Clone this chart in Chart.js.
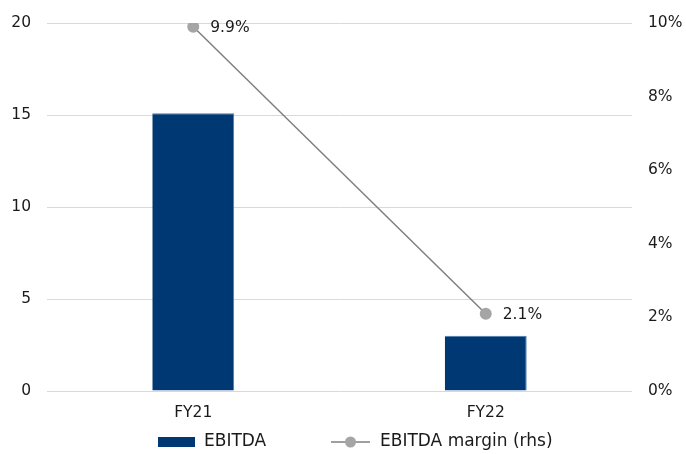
<!DOCTYPE html>
<html><head><meta charset="utf-8">
<script src="https://cdn.jsdelivr.net/npm/chart.js@4"></script>
<style>html,body{margin:0;padding:0;background:#fff}#wrap{width:686px;height:454px;position:relative}</style>
</head><body><div id="wrap"><canvas id="c" width="686" height="454"></canvas></div>
<script>
const categories = ["FY21", "FY22"];
const ebitda = [15.1, 3.0];
const margin = [9.9, 2.1];
const marginLabels = ["9.9%", "2.1%"];
const leftTicks = [0, 5, 10, 15, 20];
const rightTicks = [0, 2, 4, 6, 8, 10];

const FONT = "'DejaVu Sans', Verdana, sans-serif";
const TXT = '#1a1a1a';
const FS = 15.5;

const labelPlugin = {
  id: 'labels',
  afterDatasetsDraw(chart) {
    const ctx = chart.ctx;
    const meta = chart.getDatasetMeta(1);
    ctx.save();
    ctx.font = FS + 'px ' + FONT;
    ctx.fillStyle = TXT;
    ctx.textBaseline = 'middle';
    ctx.textAlign = 'left';
    meta.data.forEach((pt, i) => {
      ctx.fillText(marginLabels[i], pt.x + 17, pt.y + 1);
    });
    ctx.restore();
  },
  afterDraw(chart) {
    const ctx = chart.ctx;
    ctx.save();
    ctx.font = '17px ' + FONT;
    ctx.textBaseline = 'middle';
    const y = 442;
    ctx.fillStyle = '#003873';
    ctx.fillRect(158, 437, 37, 10);
    ctx.fillStyle = TXT;
    ctx.fillText(chart.data.datasets[0].label, 204, y);
    ctx.strokeStyle = '#7f7f7f';
    ctx.lineWidth = 1.5;
    ctx.beginPath(); ctx.moveTo(331, y); ctx.lineTo(370, y); ctx.stroke();
    ctx.fillStyle = '#a5a5a5';
    ctx.beginPath(); ctx.arc(350.5, y, 5.5, 0, Math.PI * 2); ctx.fill();
    ctx.fillStyle = TXT;
    ctx.fillText(chart.data.datasets[1].label, 380, y);
    ctx.restore();
  }
};

new Chart(document.getElementById('c'), {
  data: {
    labels: categories,
    datasets: [
      { type: 'bar', label: 'EBITDA', data: ebitda, backgroundColor: '#003873', borderColor: '#4a7bb0', borderWidth: {top:1, left:0, right:1, bottom:0}, yAxisID: 'y', order: 2,
        categoryPercentage: 1.0, barPercentage: 0.28 },
      { type: 'line', label: 'EBITDA margin (rhs)', data: margin, borderColor: '#7f7f7f', borderWidth: 1.5, pointRadius: 6, pointHoverRadius: 6,
        pointBackgroundColor: '#a5a5a5', pointBorderColor: '#a5a5a5', pointBorderWidth: 0, yAxisID: 'y1', order: 1 }
    ]
  },
  options: {
    responsive: false,
    animation: false,
    events: [],
    layout: { padding: { top: 23, left: 0, right: 0, bottom: 0 } },
    plugins: { legend: { display: false }, tooltip: { enabled: false } },
    scales: {
      x: {
        grid: { display: false, drawTicks: false },
        border: { display: false },
        ticks: { color: TXT, font: { family: FONT, size: FS }, padding: 13 },
        afterFit(s) { s.height = 63; }
      },
      y: {
        position: 'left', min: 0, max: 20,
        afterBuildTicks(s) { s.ticks = leftTicks.map(v => ({ value: v })); },
        grid: { color: '#d9d9d9', lineWidth: 1, drawTicks: false },
        border: { display: false },
        ticks: { color: TXT, font: { family: FONT, size: FS }, padding: 16 },
        afterFit(s) { s.width = 47; s.paddingTop = 0; s.paddingBottom = 0; }
      },
      y1: {
        position: 'right', min: 0, max: 10,
        afterBuildTicks(s) { s.ticks = rightTicks.map(v => ({ value: v })); },
        grid: { display: false, drawTicks: false },
        border: { display: false },
        ticks: { color: TXT, font: { family: FONT, size: FS }, padding: 16, callback: v => v + '%' },
        afterFit(s) { s.width = 54; s.paddingTop = 0; s.paddingBottom = 0; }
      }
    }
  },
  plugins: [labelPlugin]
});
</script>
</body></html>
